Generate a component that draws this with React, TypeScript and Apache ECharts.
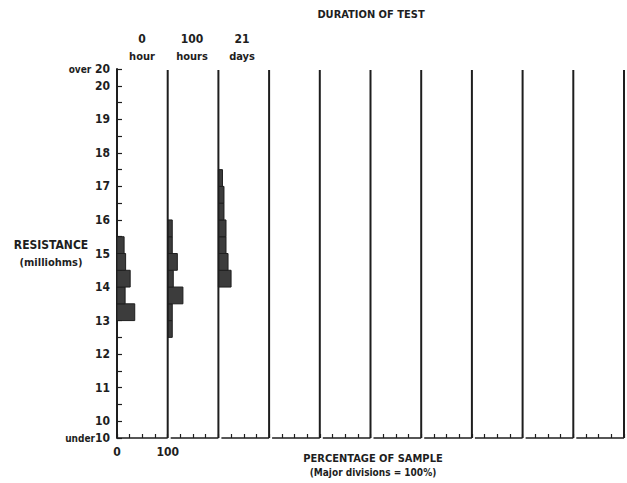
import { useEffect, useRef } from "react";
import * as echarts from "echarts";

// ---- data (percentage of sample per 0.5 milliohm bin) ----
const BIN = 0.5;
const PANEL_COUNT = 10;
const HOUR0_LOWS = [13.0, 13.5, 14.0, 14.5, 15.0];
const HOUR0_PCT = [35, 16, 26, 17, 14];
const HOURS100_LOWS = [12.5, 13.0, 13.5, 14.0, 14.5, 15.0, 15.5];
const HOURS100_PCT = [9, 9, 30, 11, 19, 9, 9];
const DAYS21_LOWS = [14.0, 14.5, 15.0, 15.5, 16.0, 16.5, 17.0];
const DAYS21_PCT = [25, 19, 15, 15, 11, 11, 8];

const DURATION_TOP = ["0", "100", "21"];
const DURATION_BOTTOM = ["hour", "hours", "days"];

const Y_MIN = 9.5;
const Y_MAX = 20.5;
const Y_OVER_WORD = "over";
const Y_UNDER_WORD = "under";
const X_LABELS: Record<number, string> = { 0: "0", 100: "100" };

const TITLE = "DURATION OF TEST";
const Y_NAME = ["RESISTANCE", "(milliohms)"];
const X_NAME = ["PERCENTAGE OF SAMPLE", "(Major divisions = 100%)"];

const FONT = "'Liberation Sans Narrow', 'DejaVu Sans Condensed', 'Roboto Condensed', Arial, sans-serif";
const INK = "#1e1e1e";

export default function App() {
  const ref = useRef<HTMLDivElement>(null);
  useEffect(() => {
    if (!ref.current) return;
    const chart = echarts.init(ref.current, undefined, { renderer: "svg" });

    const histData: number[][] = [];
    HOUR0_LOWS.forEach((l, i) => histData.push([0, l, HOUR0_PCT[i]]));
    HOURS100_LOWS.forEach((l, i) => histData.push([1, l, HOURS100_PCT[i]]));
    DAYS21_LOWS.forEach((l, i) => histData.push([2, l, DAYS21_PCT[i]]));

    const dividers: number[][] = [];
    for (let p = 1; p <= PANEL_COUNT; p++) dividers.push([p]);
    const bottoms: number[][] = [];
    for (let p = 0; p < PANEL_COUNT; p++) bottoms.push([p]);

    const panelCenters = [142, 192, 242];
    const graphic: any[] = [
      {
        type: "text", x: 371, y: 14,
        style: { text: TITLE, font: `bold 11px ${FONT}`, fill: INK, align: "center", verticalAlign: "middle" },
      },
      {
        type: "text", x: 51, y: 245,
        style: { text: Y_NAME[0], font: `bold 12px ${FONT}`, fill: INK, align: "center", verticalAlign: "middle" },
      },
      {
        type: "text", x: 51, y: 262,
        style: { text: Y_NAME[1], font: `bold 11px ${FONT}`, fill: INK, align: "center", verticalAlign: "middle" },
      },
      {
        type: "text", x: 373, y: 458,
        style: { text: X_NAME[0], font: `bold 11px ${FONT}`, fill: INK, align: "center", verticalAlign: "middle" },
      },
      {
        type: "text", x: 373, y: 472,
        style: { text: X_NAME[1], font: `bold 10px ${FONT}`, fill: INK, align: "center", verticalAlign: "middle" },
      },
    ];
    DURATION_TOP.forEach((t, i) => {
      graphic.push({
        type: "text", x: panelCenters[i], y: 39,
        style: { text: t, font: `bold 12px ${FONT}`, fill: INK, align: "center", verticalAlign: "middle" },
      });
      graphic.push({
        type: "text", x: panelCenters[i], y: 56,
        style: { text: DURATION_BOTTOM[i], font: `bold 11px ${FONT}`, fill: INK, align: "center", verticalAlign: "middle" },
      });
    });

    chart.setOption({
      animation: false,
      backgroundColor: "#ffffff",
      grid: { left: 117, right: 2, top: 69, bottom: 45 },
      xAxis: {
        type: "value",
        min: 0,
        max: PANEL_COUNT * 100,
        interval: 25,
        splitLine: { show: false },
        axisLine: { show: false },
        axisTick: { show: true, inside: true, length: 4, lineStyle: { color: INK, width: 1.2 } },
        axisLabel: {
          interval: 0,
          margin: 8,
          formatter: (v: number) => X_LABELS[v] ?? "",
          color: INK,
          fontFamily: FONT,
          fontWeight: "bold",
          fontSize: 12,
        },
      },
      yAxis: {
        type: "value",
        min: Y_MIN,
        max: Y_MAX,
        interval: 0.5,
        splitLine: { show: false },
        axisLine: { show: true, lineStyle: { color: INK, width: 2 } },
        axisTick: { show: true, inside: true, length: 5, lineStyle: { color: INK, width: 1.2 } },
        axisLabel: {
          interval: 0,
          margin: 7,
          color: INK,
          fontFamily: FONT,
          fontWeight: "bold",
          fontSize: 12,
          rich: {
            w: { fontSize: 10, fontFamily: FONT, fontWeight: "bold", color: INK },
          },
          formatter: (v: number) => {
            if (Math.abs(v - Y_MAX) < 1e-6) return `{w|${Y_OVER_WORD}} ${Math.floor(Y_MAX)}`;
            if (Math.abs(v - Y_MIN) < 1e-6) return `{w|${Y_UNDER_WORD}}${Math.ceil(Y_MIN)}`;
            if (Math.abs(v - Math.round(v)) < 1e-6) return String(Math.round(v));
            return "";
          },
        },
      },
      graphic,
      series: [
        {
          type: "custom",
          name: "histograms",
          data: histData,
          encode: { x: 0, y: 1 },
          renderItem: (_p: any, api: any) => {
            const panel = api.value(0);
            const low = api.value(1);
            const pct = api.value(2);
            const a = api.coord([panel * 100, low + BIN]);
            const b = api.coord([panel * 100 + pct, low]);
            return {
              type: "rect",
              shape: { x: a[0], y: a[1], width: b[0] - a[0], height: b[1] - a[1] },
              style: { fill: "#3c3c3c", stroke: INK, lineWidth: 1 },
            };
          },
        },
        {
          type: "custom",
          name: "dividers",
          data: dividers,
          encode: { x: 0 },
          renderItem: (_p: any, api: any) => {
            const p = api.value(0);
            const a = api.coord([p * 100, Y_MAX]);
            const b = api.coord([p * 100, Y_MIN]);
            return {
              type: "line",
              shape: { x1: a[0], y1: a[1] + 1, x2: b[0], y2: b[1] },
              style: { stroke: INK, lineWidth: 2 },
            };
          },
        },
        {
          type: "custom",
          name: "baselines",
          data: bottoms,
          encode: { x: 0 },
          renderItem: (_p: any, api: any) => {
            const p = api.value(0);
            const a = api.coord([p * 100, Y_MIN]);
            const b = api.coord([(p + 1) * 100, Y_MIN]);
            return {
              type: "line",
              shape: { x1: a[0] + (p === 0 ? 0 : 3), y1: a[1], x2: b[0], y2: b[1] },
              style: { stroke: INK, lineWidth: 1.6 },
            };
          },
        },
      ],
    });
    return () => chart.dispose();
  }, []);

  return (
    <div
      ref={ref}
      style={{ position: "fixed", left: 0, top: 0, width: 627, height: 483, background: "#fff" }}
    />
  );
}
